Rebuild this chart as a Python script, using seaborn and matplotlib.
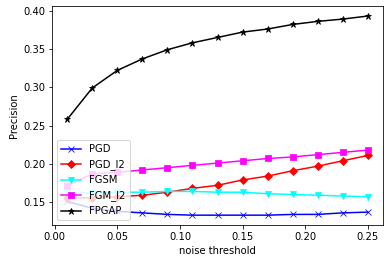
import numpy as np
import pandas as pd
import matplotlib
matplotlib.use('Agg')
import matplotlib.pyplot as plt
import seaborn as sns

# Data
thresholds = [0.01, 0.03, 0.05, 0.07, 0.09, 0.11, 0.13, 0.15, 0.17, 0.19, 0.21, 0.23, 0.25]
pgd = [0.151, 0.142, 0.138, 0.136, 0.134, 0.133, 0.133, 0.133, 0.133, 0.134, 0.134, 0.136, 0.137]
pgd_l2 = [0.155, 0.156, 0.157, 0.159, 0.163, 0.168, 0.172, 0.179, 0.184, 0.191, 0.197, 0.204, 0.211]
fgsm = [0.162, 0.162, 0.163, 0.163, 0.164, 0.164, 0.163, 0.163, 0.161, 0.160, 0.159, 0.158, 0.157]
fgm_l2 = [0.171, 0.187, 0.189, 0.192, 0.195, 0.198, 0.201, 0.204, 0.207, 0.209, 0.212, 0.215, 0.218]
fpgap = [0.258, 0.299, 0.322, 0.337, 0.349, 0.358, 0.365, 0.372, 0.376, 0.382, 0.386, 0.389, 0.393]

series = [
    ('PGD', pgd, 'blue', 'x', 6),
    ('PGD_l2', pgd_l2, 'red', 'D', 6),
    ('FGSM', fgsm, 'cyan', 'v', 6),
    ('FGM_l2', fgm_l2, 'magenta', 's', 6),
    ('FPGAP', fpgap, 'black', '*', 7),
]

# reference looks like a 72 dpi notebook render
DPI = 72
fig = plt.figure(figsize=(392 / DPI, 263 / DPI), dpi=DPI)
ax = fig.add_axes([0.133, 0.144, 0.844, 0.833])

for name, values, color, marker, msize in series:
    df = pd.DataFrame({'noise threshold': thresholds, 'Precision': values})
    sns.lineplot(data=df, x='noise threshold', y='Precision', color=color,
                 marker=marker, markersize=msize, markeredgecolor=color,
                 linewidth=1.5, label=name, ax=ax)

ax.set_xlabel('noise threshold')
ax.set_ylabel('Precision')
ax.legend(loc='lower left')

fig.savefig('out.png', dpi=DPI)
